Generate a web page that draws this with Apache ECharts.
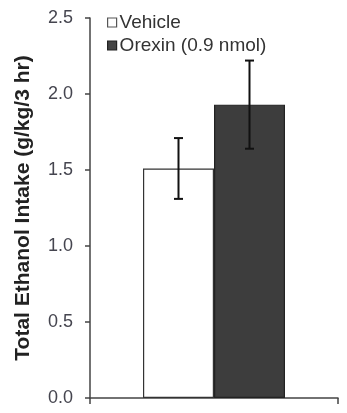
<!DOCTYPE html>
<html>
<head>
<meta charset="utf-8">
<script src="https://cdn.jsdelivr.net/npm/echarts@6/dist/echarts.min.js"></script>
<style>
  html, body { margin: 0; padding: 0; background: #fff; }
  #chart { width: 347px; height: 413px; }
</style>
</head>
<body>
<div id="chart"></div>
<script>
// Ethanol intake data (g/kg over 3 hr), mean and SEM per treatment
const categories = ['Intake'];
const seriesNames = ['Vehicle', 'Orexin (0.9 nmol)'];
const vehicleMean = [1.51];
const vehicleErr = [0.20];
const orexinMean = [1.93];
const orexinErr = [0.29];
const yTicks = [0, 0.5, 1.0, 1.5, 2.0, 2.5];

const BAR_W = 71;
const FONT = 'Liberation Sans, Arial, sans-serif';

const chart = echarts.init(document.getElementById('chart'), null, { renderer: 'canvas' });

// Error bar drawn from [categoryIndex, mean, err]; offset shifts to the bar's centre
function errorBar(offset) {
  return function (params, api) {
    const mean = api.value(1), err = api.value(2);
    const top = api.coord([api.value(0), mean + err]);
    const bot = api.coord([api.value(0), mean - err]);
    const x = top[0] + offset;
    const half = 4.5;
    const style = { stroke: '#111', lineWidth: 2 };
    return {
      type: 'group',
      children: [
        { type: 'line', shape: { x1: x, y1: top[1], x2: x, y2: bot[1] }, style },
        { type: 'line', shape: { x1: x - half, y1: top[1], x2: x + half, y2: top[1] }, style },
        { type: 'line', shape: { x1: x - half, y1: bot[1], x2: x + half, y2: bot[1] }, style }
      ]
    };
  };
}

chart.setOption({
  animation: false,
  grid: { left: 90, right: 9, top: 18, bottom: 15, containLabel: false },
  legend: {
    orient: 'vertical',
    left: 102,
    top: 8,
    itemWidth: 9,
    itemHeight: 9,
    itemGap: 4,
    icon: 'rect',
    textStyle: { fontFamily: FONT, fontSize: 19, color: '#333', padding: [0, 0, 0, -2] },
    data: [
      { name: seriesNames[0], itemStyle: { color: '#fff', borderColor: '#555', borderWidth: 1.2 } },
      { name: seriesNames[1], itemStyle: { color: '#444', borderColor: '#222', borderWidth: 1.2 } }
    ]
  },
  xAxis: {
    type: 'category',
    data: categories,
    axisLine: { lineStyle: { color: '#444', width: 1.5 } },
    axisTick: { show: true, length: 6, lineStyle: { color: '#444', width: 1.5 } },
    axisLabel: { show: false }
  },
  yAxis: {
    type: 'value',
    min: yTicks[0],
    max: yTicks[yTicks.length - 1],
    interval: 0.5,
    name: 'Total Ethanol Intake (g/kg/3 hr)',
    nameLocation: 'middle',
    nameGap: 56,
    nameTextStyle: { fontFamily: FONT, fontSize: 21, fontWeight: 'bold', color: '#222' },
    axisLine: { show: true, lineStyle: { color: '#444', width: 1.5 } },
    axisTick: { show: true, length: 5, lineStyle: { color: '#444', width: 1.5 } },
    axisLabel: {
      fontFamily: FONT, fontSize: 18, color: '#45454f', margin: 17,
      formatter: v => v.toFixed(1)
    },
    splitLine: { show: false }
  },
  series: [
    {
      name: seriesNames[0],
      type: 'bar',
      data: vehicleMean,
      barWidth: BAR_W,
      barGap: '0%',
      itemStyle: { color: '#fff', borderColor: '#333', borderWidth: 1.2 }
    },
    {
      name: seriesNames[1],
      type: 'bar',
      data: orexinMean,
      barWidth: BAR_W,
      barGap: '0%',
      itemStyle: { color: '#3d3d3d', borderColor: '#222', borderWidth: 1.2 }
    },
    {
      type: 'custom',
      renderItem: errorBar(-BAR_W / 2),
      data: categories.map((c, i) => [i, vehicleMean[i], vehicleErr[i]]),
      z: 10
    },
    {
      type: 'custom',
      renderItem: errorBar(BAR_W / 2),
      data: categories.map((c, i) => [i, orexinMean[i], orexinErr[i]]),
      z: 10
    }
  ]
});
</script>
</body>
</html>
